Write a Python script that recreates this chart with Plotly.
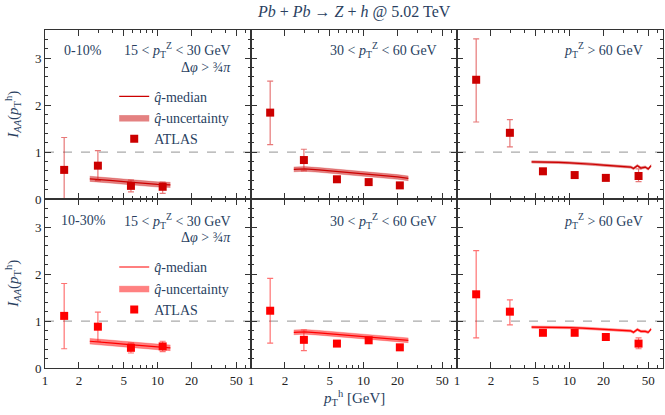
import plotly.graph_objects as go
from plotly.subplots import make_subplots

# ATLAS pT^h bin positions (GeV)
atlas_x = [1.48, 2.95, 5.8, 11.1, 21.0, 41.0]

# ATLAS I_AA, rows: 0-10%, 10-30%; cols: 15-30, 30-60, >60 GeV
atlas_c0_lo = [0.62, 0.71, 0.28, 0.26]
atlas_c0_lo_up = [0.69, 0.32, 0.12, 0.10]
atlas_c0_lo_dn = [0.70, 0.32, 0.13, 0.14]
atlas_c0_mid = [1.84, 0.83, 0.42, 0.36, 0.29]
atlas_c0_mid_up = [0.67, 0.23, 0.03, 0.03, 0.04]
atlas_c0_mid_dn = [0.68, 0.23, 0.03, 0.03, 0.04]
atlas_c0_hi = [2.54, 1.41, 0.59, 0.51, 0.45, 0.49]
atlas_c0_hi_up = [0.87, 0.28, 0.03, 0.03, 0.04, 0.15]
atlas_c0_hi_dn = [0.90, 0.30, 0.03, 0.03, 0.04, 0.12]

atlas_c1_lo = [1.11, 0.88, 0.43, 0.46]
atlas_c1_lo_up = [0.69, 0.31, 0.10, 0.11]
atlas_c1_lo_dn = [0.70, 0.31, 0.11, 0.11]
atlas_c1_mid = [1.22, 0.60, 0.52, 0.59, 0.44]
atlas_c1_mid_up = [0.69, 0.21, 0.03, 0.03, 0.04]
atlas_c1_mid_dn = [0.69, 0.23, 0.03, 0.03, 0.04]
atlas_c1_hi = [1.57, 1.20, 0.75, 0.75, 0.66, 0.52]
atlas_c1_hi_up = [0.93, 0.25, 0.03, 0.03, 0.05, 0.12]
atlas_c1_hi_dn = [0.93, 0.28, 0.03, 0.03, 0.05, 0.11]

# q-hat model curves
qx_lo = [2.5, 3, 4, 5, 6, 8, 10, 13]
qx_mid = [2.4, 3, 4, 5, 6, 8, 10, 13, 16, 20, 25]
qx_hi = [4.6, 6, 8, 10, 13, 16, 20, 25, 30, 35, 37, 40, 43, 47, 50, 53]

q_c0_lo = [0.43, 0.42, 0.39, 0.37, 0.35, 0.33, 0.31, 0.30]
q_c0_lo_w = 0.055
q_c0_mid = [0.63, 0.64, 0.62, 0.60, 0.58, 0.56, 0.54, 0.52, 0.50, 0.47, 0.44]
q_c0_mid_w = 0.05
q_c0_hi = [0.79, 0.79, 0.78, 0.77, 0.76, 0.74, 0.72, 0.71, 0.69, 0.68, 0.65, 0.71, 0.66, 0.68, 0.64, 0.71]
q_c0_hi_w = 0.025

q_c1_lo = [0.57, 0.56, 0.53, 0.51, 0.49, 0.47, 0.45, 0.43]
q_c1_lo_w = 0.06
q_c1_mid = [0.76, 0.77, 0.75, 0.73, 0.72, 0.70, 0.68, 0.66, 0.64, 0.61, 0.59]
q_c1_mid_w = 0.05
q_c1_hi = [0.87, 0.87, 0.86, 0.86, 0.85, 0.84, 0.82, 0.81, 0.80, 0.79, 0.76, 0.82, 0.78, 0.78, 0.76, 0.83]
q_c1_hi_w = 0.025

centralities = ['0-10%', '10-30%']
zbins = ['15 < <i>p</i><sub>T</sub><sup>Z</sup> < 30 GeV',
         '30 < <i>p</i><sub>T</sub><sup>Z</sup> < 60 GeV',
         '<i>p</i><sub>T</sub><sup>Z</sup> > 60 GeV']

FONT = 'Liberation Serif'
# marker colour, error bar colour, band colour per row
row_col = {1: ('#cc0000', 'rgba(215,30,30,0.6)', 'rgba(205,25,25,0.55)'),
           2: ('#ff0000', 'rgba(255,20,20,0.6)', 'rgba(255,25,25,0.55)')}

panels = [
    (1, 1, atlas_c0_lo, atlas_c0_lo_up, atlas_c0_lo_dn, qx_lo, q_c0_lo, q_c0_lo_w),
    (1, 2, atlas_c0_mid, atlas_c0_mid_up, atlas_c0_mid_dn, qx_mid, q_c0_mid, q_c0_mid_w),
    (1, 3, atlas_c0_hi, atlas_c0_hi_up, atlas_c0_hi_dn, qx_hi, q_c0_hi, q_c0_hi_w),
    (2, 1, atlas_c1_lo, atlas_c1_lo_up, atlas_c1_lo_dn, qx_lo, q_c1_lo, q_c1_lo_w),
    (2, 2, atlas_c1_mid, atlas_c1_mid_up, atlas_c1_mid_dn, qx_mid, q_c1_mid, q_c1_mid_w),
    (2, 3, atlas_c1_hi, atlas_c1_hi_up, atlas_c1_hi_dn, qx_hi, q_c1_hi, q_c1_hi_w),
]

fig = make_subplots(rows=2, cols=3, horizontal_spacing=0, vertical_spacing=0)

for r, c, ay, aup, adn, qx, qy, w in panels:
    col, ecol, fcol = row_col[r]
    leg = 'legend' if r == 1 else 'legend2'
    show = (c == 1)
    lower = [v - w for v in qy]
    upper = [v + w for v in qy]
    fig.add_trace(go.Scatter(x=qx, y=lower, mode='lines', line=dict(color=fcol, width=0.5),
                             showlegend=False, hoverinfo='skip'), row=r, col=c)
    fig.add_trace(go.Scatter(x=qx, y=upper, mode='lines', fill='tonexty', fillcolor=fcol,
                             line=dict(color=fcol, width=0.5), name='<i>q̂</i>-uncertainty',
                             legend=leg, legendrank=2, showlegend=show), row=r, col=c)
    fig.add_trace(go.Scatter(x=qx, y=qy, mode='lines', line=dict(color=col, width=1.2),
                             name='<i>q̂</i>-median', legend=leg, legendrank=1,
                             showlegend=show), row=r, col=c)
    fig.add_trace(go.Scatter(x=atlas_x[:len(ay)], y=ay, mode='markers',
                             marker=dict(symbol='square', size=8, color=col),
                             error_y=dict(type='data', array=aup, arrayminus=adn, color=ecol,
                                          thickness=1.2, width=3),
                             name='ATLAS', legend=leg, legendrank=3, showlegend=show),
                  row=r, col=c)
    fig.add_shape(type='line', xref='x domain', yref='y', x0=0, x1=1, y0=1, y1=1,
                  line=dict(color='#aaaaaa', width=1.2, dash='dash'), row=r, col=c, layer='below')

axis_common = dict(showline=True, linecolor='#333333', linewidth=1, mirror='ticks',
                   ticks='inside', ticklen=6, tickcolor='#333333', showgrid=False,
                   zeroline=False, tickfont=dict(family=FONT, size=13, color='#222222'))
for r in (1, 2):
    for c in (1, 2, 3):
        fig.update_xaxes(type='log', range=[0, 1.83], tickvals=[1, 2, 5, 10, 20, 50],
                         ticktext=['1', '2', '5', '10', '20', '50'],
                         showticklabels=(r == 2),
                         minor=dict(tickvals=[3, 4, 6, 7, 8, 9, 30, 40, 60], ticks='inside',
                                    ticklen=3, tickcolor='#333333'),
                         row=r, col=c, **axis_common)
        fig.update_yaxes(range=[0, 3.6], tickvals=[0, 1, 2, 3], showticklabels=(c == 1),
                         minor=dict(dtick=0.2, ticks='inside', ticklen=3, tickcolor='#333333'),
                         row=r, col=c, **axis_common)

txt = dict(showarrow=False, yanchor='middle', font=dict(family=FONT, size=14))
ann = []
for r in (1, 2):
    ref = '' if r == 1 else str(3 * (r - 1) + 1)
    yy = 0.881 if r == 1 else 0.87
    ann.append(dict(text=centralities[r - 1], xref='x%s domain' % ref, yref='y%s domain' % ref,
                    x=0.185, y=yy, xanchor='center', **txt))
    for c in (1, 2, 3):
        idx = (r - 1) * 3 + c
        ref = '' if idx == 1 else str(idx)
        ann.append(dict(text=zbins[c - 1], xref='x%s domain' % ref, yref='y%s domain' % ref,
                        x=1, xshift=-18, xanchor='right', y=yy, **txt))
        if c == 1:
            ann.append(dict(text='Δ<i>φ</i> > ¾<i>π</i>', xref='x%s domain' % ref,
                            yref='y%s domain' % ref, x=1, xshift=-18, xanchor='right',
                            y=yy - 0.1, **txt))

big = dict(showarrow=False, xanchor='center', yanchor='middle', xref='paper', yref='paper')
ytitle = '<i>I</i><sub><i>AA</i></sub>(<i>p</i><sub>T</sub><sup>h</sup>)'
ann.append(dict(text=ytitle, x=-0.053, y=0.75, textangle=-90,
                font=dict(family=FONT, size=15), **big))
ann.append(dict(text=ytitle, x=-0.053, y=0.25, textangle=-90,
                font=dict(family=FONT, size=15), **big))
ann.append(dict(text='<i>p</i><sub>T</sub><sup>h</sup> [GeV]', x=0.5, y=-0.09,
                font=dict(family=FONT, size=15), **big))
ann.append(dict(text='<i>Pb</i> + <i>Pb</i> → <i>Z</i> + <i>h</i> @ 5.02 TeV', x=0.5, y=1.053,
                font=dict(family=FONT, size=16), **big))

legend_style = dict(bgcolor='rgba(0,0,0,0)', font=dict(family=FONT, size=14),
                    xanchor='left', yanchor='top', tracegroupgap=0, traceorder='normal')
fig.update_layout(
    width=665, height=415,
    margin=dict(l=45, r=2, t=30, b=47),
    plot_bgcolor='white', paper_bgcolor='white',
    annotations=ann,
    legend=dict(x=0.112, y=0.85, **legend_style),
    legend2=dict(x=0.112, y=0.345, **legend_style),
)

# page body margin off so the 665x415 figure fills the window
fig.write_html("out.html", config={'displayModeBar': False},
               post_script="document.body.style.margin='0px';")
